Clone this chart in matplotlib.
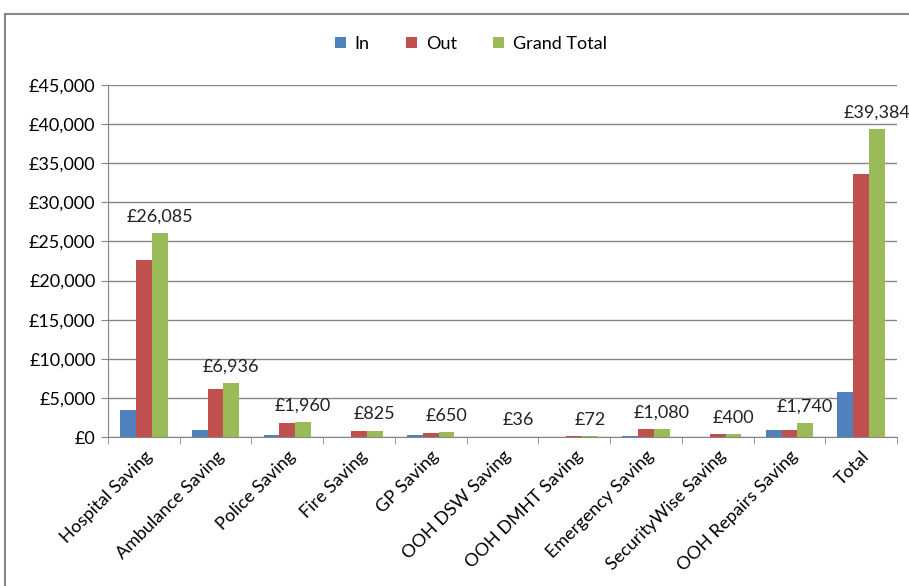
import numpy as np
import matplotlib.pyplot as plt
from matplotlib.patches import Rectangle
from matplotlib.ticker import FuncFormatter, MultipleLocator

plt.rcParams['font.family'] = ['Lato', 'DejaVu Sans']

# chart data
categories = ['Hospital Saving', 'Ambulance Saving', 'Police Saving', 'Fire Saving',
              'GP Saving', 'OOH DSW Saving', 'OOH DMHT Saving', 'Emergency Saving',
              'SecurityWise Saving', 'OOH Repairs Saving', 'Total']
in_vals = [3500, 850, 200, 0, 200, 0, 0, 80, 0, 870, 5800]
out_vals = [22585, 6086, 1760, 825, 450, 36, 72, 1000, 400, 870, 33584]
total_vals = [26085, 6936, 1960, 825, 650, 36, 72, 1080, 400, 1740, 39384]
series_names = ['In', 'Out', 'Grand Total']
colors = ['#4F81BD', '#C0504D', '#9BBB59']

fig = plt.figure(figsize=(9.09, 5.86), dpi=100)
ax = fig.add_axes([108 / 909, 1 - 437 / 586, (897 - 108) / 909, (437 - 85) / 586])

# outer chart frame
fig.patches.append(Rectangle((5 / 909, -0.1), 1.1, 1 - 14 / 586 + 0.1,
                             transform=fig.transFigure, fill=False,
                             edgecolor='#868686', linewidth=1.5))

x = np.arange(len(categories))
w = 0.22
for i, (vals, name, col) in enumerate(zip([in_vals, out_vals, total_vals], series_names, colors)):
    ax.bar(x + (i - 1) * w, vals, width=w, color=col, label=name, zorder=3)

for xi, v in zip(x, total_vals):
    ax.annotate(f'£{v:,}', (xi + w, v), xytext=(0, 6), textcoords='offset points',
                ha='center', va='bottom', fontsize=13, color='#222222')

ax.set_xlim(-0.5, len(categories) - 0.5)
ax.set_ylim(0, 45000)
ax.yaxis.set_major_locator(MultipleLocator(5000))
ax.yaxis.set_major_formatter(FuncFormatter(lambda v, p: f'£{int(v):,}'))
ax.grid(axis='y', color='#868686', linewidth=1, zorder=0)

ax.set_xticks(x)
ax.set_xticklabels(categories, rotation=45, ha='right', rotation_mode='anchor', fontsize=13)
ax.set_xticks(np.arange(-0.5, len(categories)), minor=True)
ax.tick_params(axis='x', which='major', length=0, pad=8)
ax.tick_params(axis='x', which='minor', length=5, color='#868686')
ax.tick_params(axis='y', length=5, color='#868686', labelsize=13, pad=4)

for s in ['top', 'right']:
    ax.spines[s].set_visible(False)
for s in ['left', 'bottom']:
    ax.spines[s].set_color('#868686')

fig.legend(loc='center', bbox_to_anchor=(0.518, 1 - 44 / 586), ncol=3, frameon=False,
           fontsize=13, handlelength=0.6, handleheight=0.6, handletextpad=0.5,
           columnspacing=2.0)

fig.savefig('out.png', dpi=100)
